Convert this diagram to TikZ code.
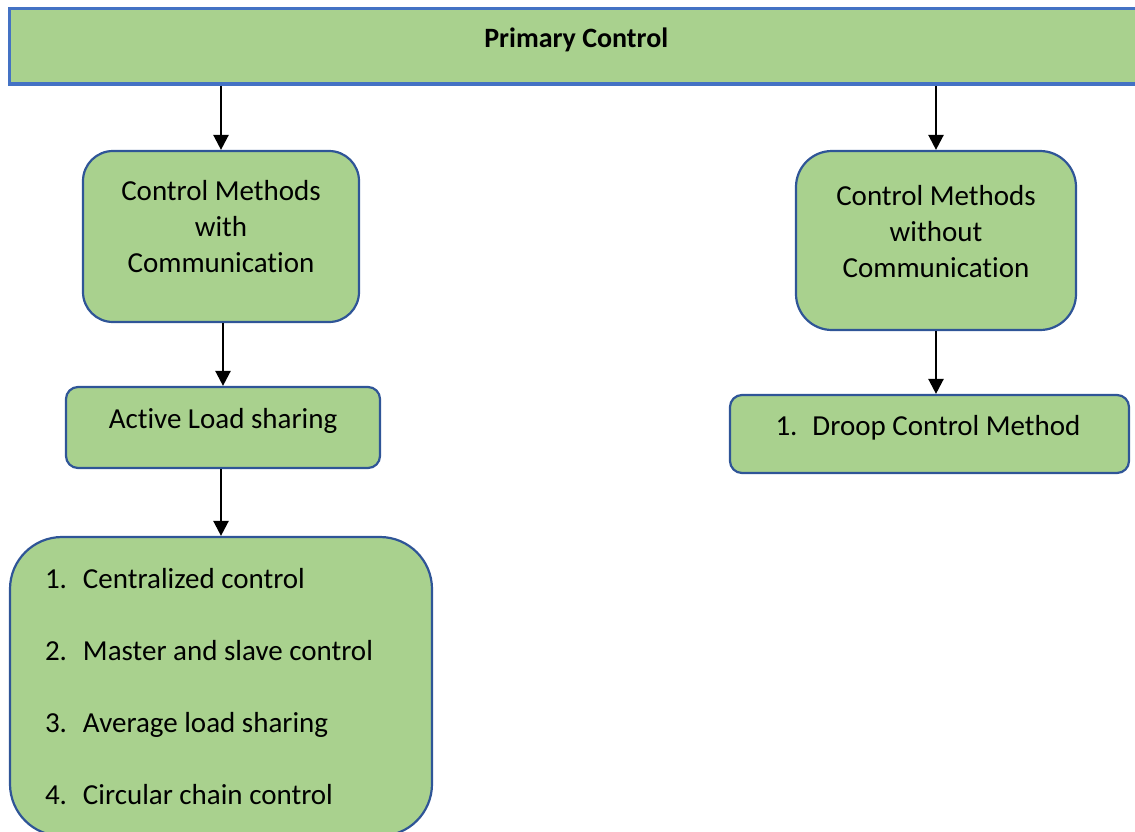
\documentclass[tikz,border=0pt]{standalone}
\usepackage{fontspec}
\setmainfont{Carlito}[Ligatures=NoCommon]
\usetikzlibrary{arrows.meta}
\definecolor{boxgreen}{HTML}{A9D18E}
\definecolor{barblue}{HTML}{4472C4}
\definecolor{edgeblue}{HTML}{2F5597}
\begin{document}
\begin{tikzpicture}[x=1pt,y=-1pt,
  every node/.style={font=\fontsize{29}{36}\selectfont,inner sep=0pt},
  box/.style={draw=edgeblue,fill=boxgreen,line width=2.2pt,align=center},
  arr/.style={-{Triangle[length=15pt,width=15pt]},line width=2.4pt,black}]
\useasboundingbox (0,0) rectangle (1135,831);
% top bar
\node[draw=barblue,fill=boxgreen,line width=3.6pt,minimum width=1133.5pt,minimum height=75.5pt,
  text height=20pt,text depth=17pt,font=\fontsize{28}{34}\selectfont\bfseries] (top) at (576.25,46.25) {Primary Control};
% two branches
\node[box,rounded corners=30pt,minimum width=276pt,minimum height=171pt] (withcomm) at (221,236.5)
  {Control Methods\\with\\Communication\rule[-21pt]{0pt}{0pt}};
\node[box,rounded corners=36pt,minimum width=280pt,minimum height=179pt] (nocomm) at (936,240.5)
  {Control Methods\\without\\Communication\rule[-19pt]{0pt}{0pt}};
\node[box,rounded corners=12pt,minimum width=314pt,minimum height=81pt,text height=20pt,text depth=19pt] (active) at (223,427.5)
  {Active Load sharing};
\node[box,rounded corners=12pt,minimum width=399pt,minimum height=78pt,text height=20pt,text depth=18pt] (droop) at (929.5,434)
  {\makebox[37pt][l]{1.}Droop Control Method\hspace*{3pt}};
\node[box,rounded corners=52pt,minimum width=422pt,minimum height=299pt,text width=352pt,inner xsep=35pt,align=flush left] (methods) at (221,686.5)
  {\makebox[38pt][l]{1.}Centralized control\\[36pt]
   \makebox[38pt][l]{2.}Master and slave control\\[36pt]
   \makebox[38pt][l]{3.}Average load sharing\\[36pt]
   \makebox[38pt][l]{4.}Circular chain control};
% connectors
\draw[arr] (top.south -| withcomm.north) -- (withcomm.north);
\draw[arr] (top.south -| nocomm.north) -- (nocomm.north);
\draw[arr] (withcomm.south -| active.north) -- (active.north);
\draw[arr] (nocomm.south) -- (nocomm.south |- droop.north);
\draw[arr] (active.south -| methods.north) -- (methods.north);
\end{tikzpicture}
\end{document}
